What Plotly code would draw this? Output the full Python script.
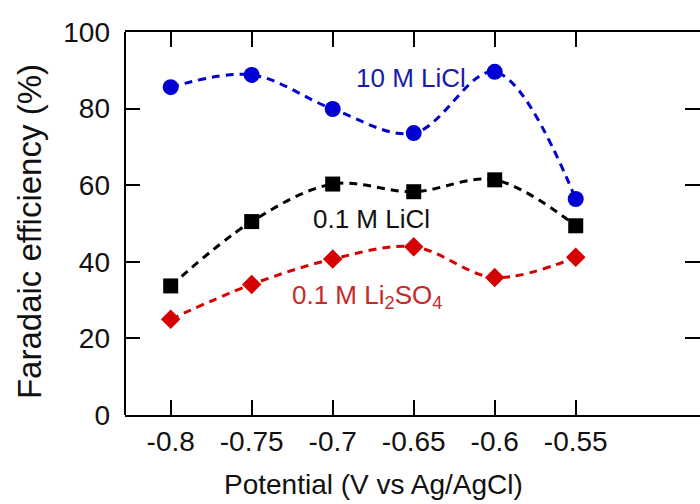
import plotly.graph_objects as go

# Electrode potential (V vs Ag/AgCl)
potential = [-0.80, -0.75, -0.70, -0.65, -0.60, -0.55]

# Faradaic efficiency (%) for each electrolyte
fe_10m_licl = [85.6, 88.8, 79.9, 73.6, 89.6, 56.4]
fe_01m_licl = [33.7, 50.5, 60.3, 58.3, 61.4, 49.4]
fe_01m_li2so4 = [25.0, 34.1, 40.7, 43.9, 35.9, 41.2]

series_names = ["10 M LiCl", "0.1 M LiCl", "0.1 M Li<sub>2</sub>SO<sub>4</sub>"]

x_tick_vals = [-0.80, -0.75, -0.70, -0.65, -0.60, -0.55]
x_tick_text = ["-0.8", "-0.75", "-0.7", "-0.65", "-0.6", "-0.55"]
y_tick_vals = [0, 20, 40, 60, 80, 100]

x_title = "Potential (V vs Ag/AgCl)"
y_title = "Faradaic efficiency (%)"

FONT = "Liberation Sans, Arial, sans-serif"

fig = go.Figure()


def add_series(y, line_color, marker_symbol, marker_size, name):
    fig.add_trace(go.Scatter(
        x=potential, y=y, name=name,
        mode="lines+markers",
        line=dict(color=line_color, width=3, dash="8px,6px",
                  shape="spline", smoothing=1.0),
        marker=dict(color=line_color, symbol=marker_symbol, size=marker_size,
                    line=dict(width=0)),
        showlegend=False, cliponaxis=False,
    ))


add_series(fe_10m_licl, "#0000d2", "circle", 16, series_names[0])
add_series(fe_01m_licl, "#000000", "square", 15, series_names[1])
add_series(fe_01m_li2so4, "#d60000", "diamond", 15, series_names[2])

# Inline series labels
fig.add_annotation(x=-0.6515, y=88.0, text=series_names[0], showarrow=False,
                   font=dict(family=FONT, size=26, color="#1a1aa8"))
fig.add_annotation(x=-0.6760, y=51.2, text=series_names[1], showarrow=False,
                   font=dict(family=FONT, size=26, color="#111111"))
fig.add_annotation(x=-0.6790, y=31.0, text=series_names[2], showarrow=False,
                   font=dict(family=FONT, size=26, color="#c42a2a"))

# Axis titles
fig.add_annotation(xref="paper", yref="paper", x=0.433, y=-0.181,
                   text=x_title, showarrow=False,
                   xanchor="center", yanchor="middle",
                   font=dict(family=FONT, size=28, color="#111111"))
fig.add_annotation(xref="paper", yref="paper", x=-0.165, y=0.478,
                   text=y_title, showarrow=False, textangle=-90,
                   xanchor="center", yanchor="middle",
                   font=dict(family=FONT, size=33, color="#111111"))

# Left frame edge (the right edge is cut off beyond the plotting area)
fig.add_shape(type="line", xref="paper", yref="paper", x0=0, x1=0, y0=0, y1=1,
              line=dict(color="black", width=2))

fig.update_xaxes(
    range=[-0.8282, -0.4733],
    tickvals=x_tick_vals, ticktext=x_tick_text,
    ticks="inside", ticklen=15, tickwidth=2, tickcolor="black",
    showline=True, linecolor="black", linewidth=2, mirror="ticks",
    showgrid=False, zeroline=False,
    tickfont=dict(family=FONT, size=28, color="#111111"),
)
fig.update_yaxes(
    range=[0, 100],
    tickvals=y_tick_vals,
    ticks="inside", ticklen=15, tickwidth=2, tickcolor="black",
    ticklabelstandoff=14,
    showline=False, mirror="ticks",
    showgrid=False, zeroline=False,
    tickfont=dict(family=FONT, size=28, color="#111111"),
)

fig.update_layout(
    width=700, height=504,
    margin=dict(l=125, r=0, t=32, b=89, autoexpand=False),
    plot_bgcolor="white", paper_bgcolor="white",
)

fig.write_html("out.html")
